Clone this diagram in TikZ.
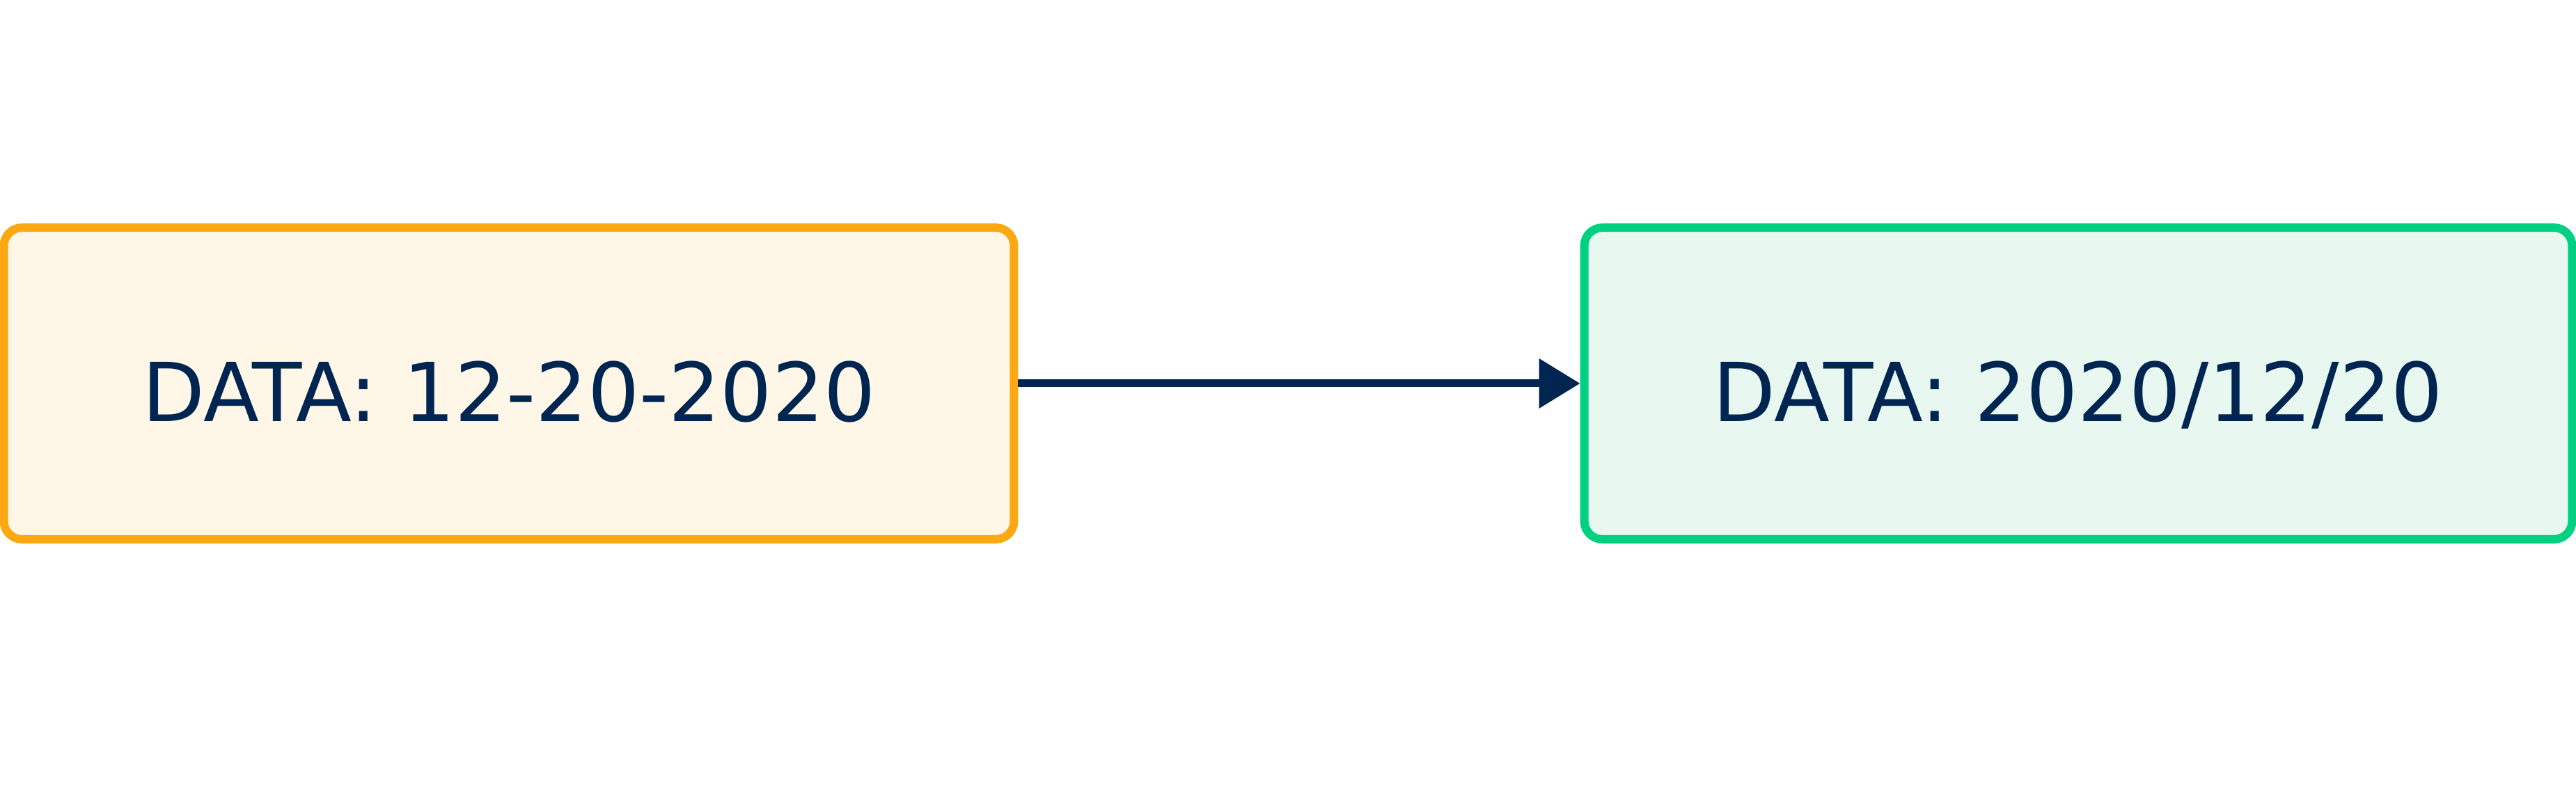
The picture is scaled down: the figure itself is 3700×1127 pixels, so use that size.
\documentclass[tikz,border=0pt]{standalone}
\usepackage{fontspec}
\setmainfont{DejaVu Sans}
\usetikzlibrary{positioning}
\usetikzlibrary{arrows.meta}
\definecolor{navy}{HTML}{002551}
\definecolor{amber}{HTML}{FCA812}
\definecolor{amberfill}{HTML}{FEF7E7}
\definecolor{mint}{HTML}{00D082}
\definecolor{mintfill}{HTML}{E8F8F0}
\tikzset{
	datebox/.style={
		rectangle,
		rounded corners=0.26cm,
		line width=0.12cm,
		minimum height=4.475cm,
		text centered,
		text height=31pt,
		text depth=0pt,
		text=navy,
		font=\fontsize{33.2pt}{38pt}\selectfont},
	oldfmt/.style={datebox, draw=amber, fill=amberfill, minimum width=14.50cm},
	newfmt/.style={datebox, draw=mint, fill=mintfill, minimum width=14.18cm},
	conv/.style={draw=navy, line width=0.11cm, -{Triangle[length=0.59cm, width=0.69cm]}},
}

\begin{document}
\begin{tikzpicture}[x=0.01cm,y=0.01cm]
	\useasboundingbox (0,0) rectangle (3700,1127);
	
	\node[oldfmt] (usdate) at (731,576) {DATA: 12-20-2020};
	\node[newfmt] (isodate) at (2985,576) {DATA: 2020/12/20};
	
	\draw[conv] (usdate.east) -- (isodate.west);
	
\end{tikzpicture}
\end{document}
